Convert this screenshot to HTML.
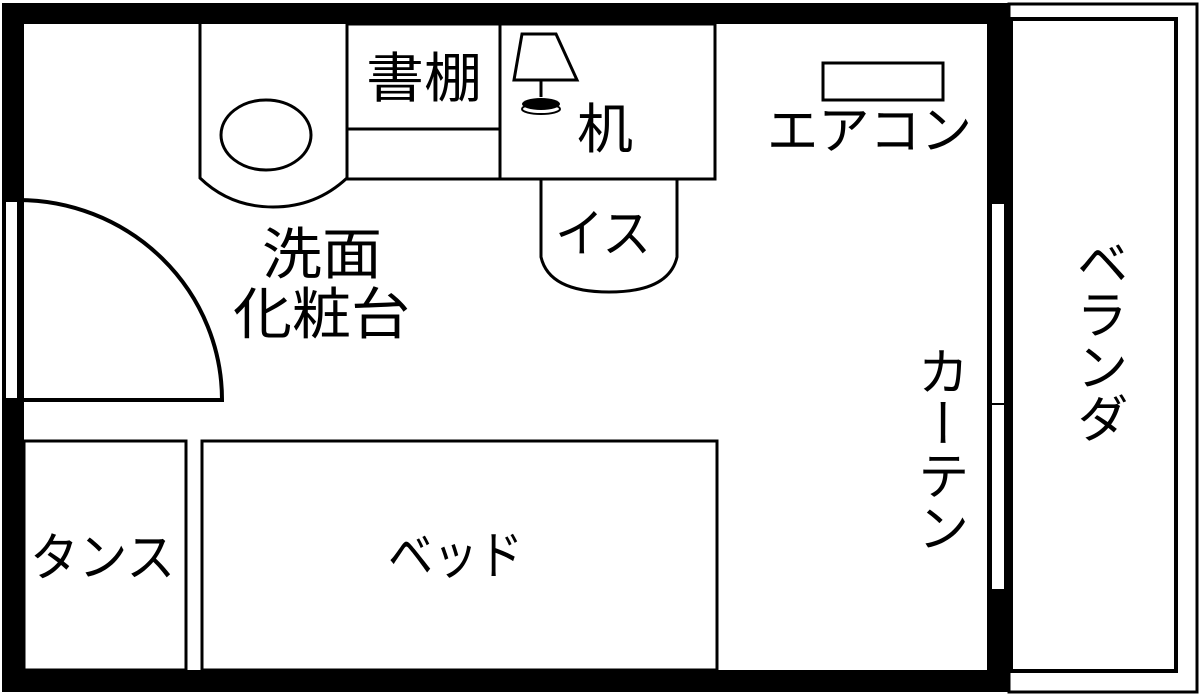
<!DOCTYPE html>
<html><head><meta charset="utf-8"><style>
html,body{margin:0;padding:0;background:#fff;width:1200px;height:696px;overflow:hidden}
text{font-family:"Liberation Sans","Noto Sans CJK JP",sans-serif;fill:#000}
</style></head><body>
<svg width="1200" height="696" viewBox="0 0 1200 696" xmlns="http://www.w3.org/2000/svg">
<rect width="1200" height="696" fill="#fff"/>
<rect x="2" y="3" width="1007" height="21" fill="#000"/>
<rect x="2" y="3" width="22" height="689" fill="#000"/>
<rect x="2" y="670" width="1007" height="22" fill="#000"/>
<rect x="987" y="3" width="22" height="689" fill="#000"/>
<rect x="5" y="201" width="13" height="198" fill="#fff" stroke="#000" stroke-width="2"/>
<rect x="991" y="203" width="14" height="387" fill="#fff" stroke="#000" stroke-width="2"/>
<line x1="991" y1="404" x2="1005" y2="404" stroke="#000" stroke-width="2"/>
<rect x="1009" y="4" width="188" height="688" fill="#fff" stroke="#000" stroke-width="3"/>
<rect x="1011" y="19" width="165" height="652" fill="#fff" stroke="#000" stroke-width="4"/>
<path d="M18 200 A204 200 0 0 1 222 400 L18 400" fill="none" stroke="#000" stroke-width="4"/>
<path d="M200 24 L200 178 Q230 207 273 207 Q316 207 347 178 L347 24" fill="none" stroke="#000" stroke-width="3"/>
<ellipse cx="266" cy="135" rx="45" ry="35" fill="none" stroke="#000" stroke-width="3"/>
<rect x="347" y="24" width="153" height="155" fill="none" stroke="#000" stroke-width="3"/>
<line x1="347" y1="129" x2="500" y2="129" stroke="#000" stroke-width="3"/>
<rect x="500" y="24" width="215" height="155" fill="none" stroke="#000" stroke-width="3"/>
<polygon points="522,34 556,34 577,80 514,80" fill="#fff" stroke="#000" stroke-width="3"/>
<line x1="541" y1="80" x2="541" y2="97" stroke="#000" stroke-width="3"/>
<ellipse cx="541" cy="104" rx="19" ry="6" fill="#000"/>
<ellipse cx="541" cy="109" rx="19" ry="5" fill="none" stroke="#000" stroke-width="2"/>
<path d="M541 179 L541 257 Q549 292 609 292 Q669 292 677 257 L677 179" fill="none" stroke="#000" stroke-width="3"/>
<rect x="823" y="63" width="120" height="37" fill="none" stroke="#000" stroke-width="3"/>
<rect x="24" y="441" width="162" height="229" fill="none" stroke="#000" stroke-width="3"/>
<rect x="202" y="441" width="515" height="229" fill="none" stroke="#000" stroke-width="3"/>
<text x="366" y="97" font-size="54" textLength="116" lengthAdjust="spacingAndGlyphs">書棚</text>
<text x="577" y="148" font-size="54" textLength="56" lengthAdjust="spacingAndGlyphs">机</text>
<text x="767" y="149" font-size="52" textLength="205" lengthAdjust="spacingAndGlyphs">エアコン</text>
<text x="555" y="252" font-size="52" textLength="96" lengthAdjust="spacingAndGlyphs">イス</text>
<text x="262" y="274" font-size="56" textLength="120" lengthAdjust="spacingAndGlyphs">洗面</text>
<text x="233" y="334" font-size="56" textLength="177" lengthAdjust="spacingAndGlyphs">化粧台</text>
<text x="30" y="576" font-size="52" textLength="145" lengthAdjust="spacingAndGlyphs">タンス</text>
<text x="388" y="574" font-size="52" textLength="135" lengthAdjust="spacingAndGlyphs">ベッド</text>
<text x="938" y="345" font-size="52" style="writing-mode:vertical-rl">カーテン</text>
<text x="1097" y="236" font-size="52" style="writing-mode:vertical-rl">ベランダ</text>
</svg>
</body></html>
